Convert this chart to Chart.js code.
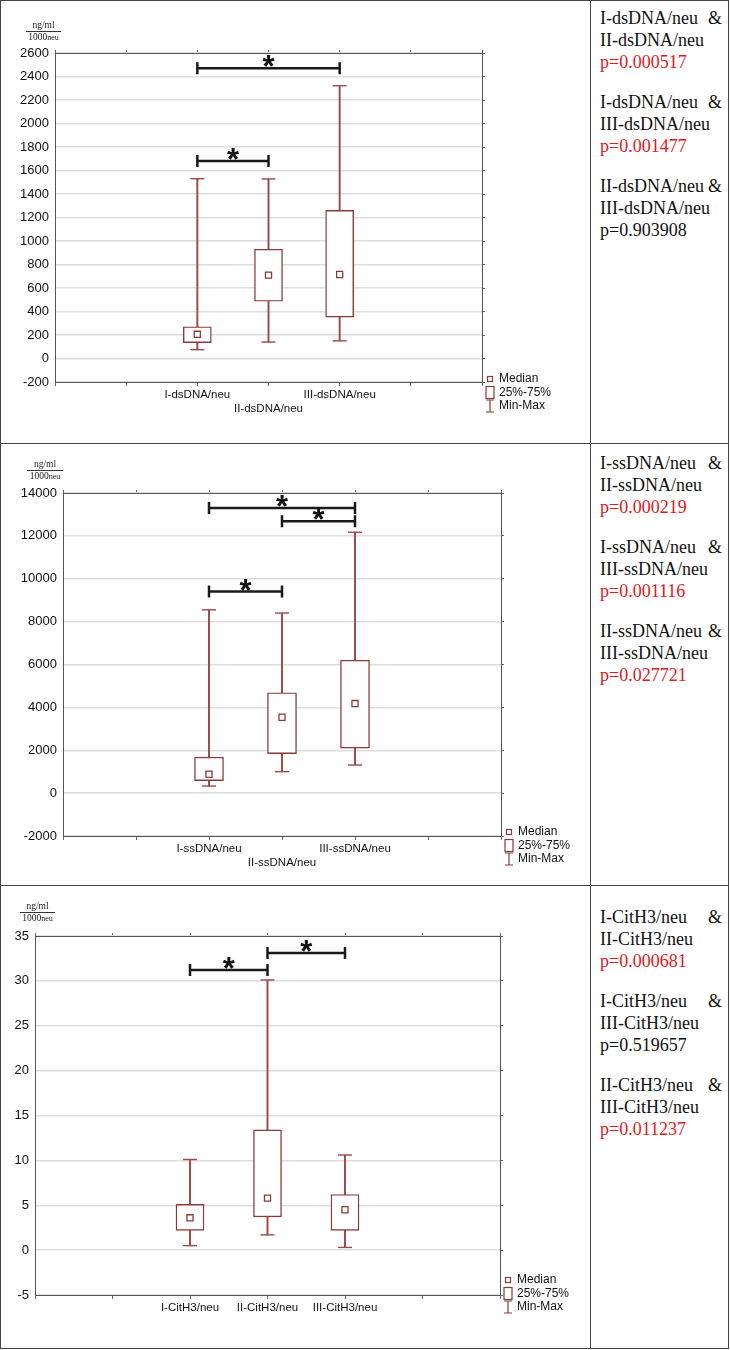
<!DOCTYPE html>
<html>
<head>
<meta charset="utf-8">
<script src="https://cdn.jsdelivr.net/npm/chart.js@4.4.0/dist/chart.umd.min.js"></script>
<style>
  body { margin: 0; background: #fff; }
  #page { position: relative; width: 730px; height: 1350px; overflow: hidden; }
  .frame { position: absolute; left: 0; top: 0; width: 727px; height: 1347px; border: 1px solid #444; }
  .hline { position: absolute; left: 0; width: 729px; height: 0; border-top: 1px solid #444; }
  .vline { position: absolute; left: 590px; top: 0; width: 0; height: 1349px; border-left: 1px solid #444; }
  canvas { position: absolute; left: 0; }
  .unit { position: absolute; font-family: "Liberation Serif", "Times New Roman", serif; font-size: 9.5px; text-align: center; color: #222; white-space: nowrap; }
  .unit span { display: block; line-height: 11px; }
  .unit .arriba { border-bottom: 1px solid #333; }
  .unit small { font-size: 8px; }
  .stats { position: absolute; left: 600px; width: 122px; font-family: "Liberation Serif", "Times New Roman", serif; font-size: 18px; line-height: 22px; color: #111; }
  .stats .fila { display: flex; justify-content: space-between; white-space: nowrap; }
  .stats .rojo { color: #e3171d; }
  .stats .grupo { margin-bottom: 18px; }
</style>
</head>
<body>
<div id="page">
  <div class="frame"></div>
  <div class="vline"></div>
  <div class="hline" style="top:443px"></div>
  <div class="hline" style="top:885px"></div>

  <canvas id="chartDs" width="590" height="443" style="top:0"></canvas>
  <canvas id="chartSs" width="590" height="442" style="top:443px"></canvas>
  <canvas id="chartCit" width="590" height="463" style="top:885px"></canvas>

  <div class="unit" style="left:26px;top:20px;width:35px"><span class="arriba">ng/ml</span><span>1000<small>neu</small></span></div>
  <div class="unit" style="left:27px;top:459px;width:36px"><span class="arriba">ng/ml</span><span>1000<small>neu</small></span></div>
  <div class="unit" style="left:20px;top:901px;width:35px"><span class="arriba">ng/ml</span><span>1000<small>neu</small></span></div>

  <div class="stats" id="statsDs" style="top:7px"></div>
  <div class="stats" id="statsSs" style="top:452px"></div>
  <div class="stats" id="statsCit" style="top:906px"></div>
</div>

<script>
// dsDNA
const dsLabels = ['I-dsDNA/neu', 'II-dsDNA/neu', 'III-dsDNA/neu'];
const dsMin = [75, 140, 150];
const dsQ1 = [135, 487, 352];
const dsMed = [206, 710, 715];
const dsQ3 = [270, 930, 1260];
const dsMax = [1530, 1528, 2322];
const dsTicks = [-200, 2600, 200];
const dsBrackets = [[0, 1, 1680], [0, 2, 2470]];
const dsPairs = [
  ['I-dsDNA/neu', 'II-dsDNA/neu', 'p=0.000517', true],
  ['I-dsDNA/neu', 'III-dsDNA/neu', 'p=0.001477', true],
  ['II-dsDNA/neu', 'III-dsDNA/neu', 'p=0.903908', false]
];

// ssDNA
const ssLabels = ['I-ssDNA/neu', 'II-ssDNA/neu', 'III-ssDNA/neu'];
const ssMin = [330, 1000, 1310];
const ssQ1 = [580, 1840, 2100];
const ssMed = [880, 3540, 4180];
const ssQ3 = [1680, 4680, 6200];
const ssMax = [8550, 8400, 12170];
const ssTicks = [-2000, 14000, 2000];
const ssBrackets = [[0, 1, 9400], [0, 2, 13300], [1, 2, 12680]];
const ssPairs = [
  ['I-ssDNA/neu', 'II-ssDNA/neu', 'p=0.000219', true],
  ['I-ssDNA/neu', 'III-ssDNA/neu', 'p=0.001116', true],
  ['II-ssDNA/neu', 'III-ssDNA/neu', 'p=0.027721', true]
];

// CitH3
const citLabels = ['I-CitH3/neu', 'II-CitH3/neu', 'III-CitH3/neu'];
const citMin = [0.5, 1.7, 0.3];
const citQ1 = [2.2, 3.7, 2.2];
const citMed = [3.6, 5.8, 4.5];
const citQ3 = [5.1, 13.4, 6.2];
const citMax = [10.1, 30.1, 10.6];
const citTicks = [-5, 35, 5];
const citBrackets = [[0, 1, 31.2], [1, 2, 33.1]];
const citPairs = [
  ['I-CitH3/neu', 'II-CitH3/neu', 'p=0.000681', true],
  ['I-CitH3/neu', 'III-CitH3/neu', 'p=0.519657', false],
  ['II-CitH3/neu', 'III-CitH3/neu', 'p=0.011237', true]
];

const COLOR_CAJA = '#8a3a3a';
const COLOR_BIGOTE = '#9c4a4a';
const FUENTE = '"Liberation Sans", Arial, sans-serif';

Chart.defaults.font.family = FUENTE;
Chart.defaults.color = '#111';

// brackets con asterisco
const pluginCorchetes = {
  id: 'corchetes',
  afterDatasetsDraw(chart, args, opts) {
    const ctx = chart.ctx;
    const xs = chart.scales.x, ys = chart.scales.y;
    ctx.save();
    (opts.lista || []).forEach(([a, b, v]) => {
      const x1 = xs.getPixelForValue(a + 2);
      const x2 = xs.getPixelForValue(b + 2);
      const y = ys.getPixelForValue(v);
      ctx.strokeStyle = '#1a1a1a';
      ctx.lineWidth = 2.5;
      ctx.beginPath();
      ctx.moveTo(x1, y); ctx.lineTo(x2, y);
      ctx.moveTo(x1, y - 6); ctx.lineTo(x1, y + 6);
      ctx.moveTo(x2, y - 6); ctx.lineTo(x2, y + 6);
      ctx.stroke();
      ctx.fillStyle = '#111';
      ctx.font = 'bold 31px ' + FUENTE;
      ctx.textAlign = 'center';
      ctx.textBaseline = 'alphabetic';
      ctx.fillText('*', (x1 + x2) / 2, y + 9);
    });
    ctx.restore();
  }
};

// leyenda Median / 25%-75% / Min-Max
const pluginLeyenda = {
  id: 'leyendaCaja',
  afterDraw(chart, args, opts) {
    const ctx = chart.ctx;
    const area = chart.chartArea;
    const x = area.right + 8;
    const y0 = area.bottom + (opts.dy || 0);
    ctx.save();
    ctx.strokeStyle = COLOR_CAJA;
    ctx.lineWidth = 1.2;
    ctx.strokeRect(x - 2.5, y0 - 2.5, 5, 5);
    ctx.strokeRect(x - 4, y0 + 13.5 - 6, 8, 12);
    const y3 = y0 + 27;
    ctx.beginPath();
    ctx.moveTo(x, y3 - 6); ctx.lineTo(x, y3 + 6);
    ctx.moveTo(x - 4, y3 - 6); ctx.lineTo(x + 4, y3 - 6);
    ctx.moveTo(x - 4, y3 + 6); ctx.lineTo(x + 4, y3 + 6);
    ctx.stroke();
    ctx.fillStyle = '#111';
    ctx.font = '12px ' + FUENTE;
    ctx.textAlign = 'left';
    ctx.textBaseline = 'middle';
    ctx.fillText('Median', x + 9, y0);
    ctx.fillText('25%-75%', x + 9, y0 + 13.5);
    ctx.fillText('Min-Max', x + 9, y3);
    ctx.restore();
  }
};

function crearPanel(id, d) {
  const canvas = document.getElementById(id);
  const W = canvas.width, H = canvas.height;
  const pos = d.labels.map((_, i) => i + 2);
  const [yMin, yMax, yStep] = d.ticks;

  return new Chart(canvas, {
    type: 'bar',
    data: {
      datasets: [
        {
          type: 'scatter',
          order: 0,
          data: pos.map((x, i) => ({ x, y: d.med[i] })),
          pointStyle: 'rect',
          pointRadius: 4.3,
          backgroundColor: '#fff',
          borderColor: COLOR_CAJA,
          borderWidth: 1.3
        },
        {
          type: 'bar',
          order: 1,
          grouped: false,
          data: pos.map((x, i) => ({ x, y: [d.q1[i], d.q3[i]] })),
          barThickness: d.caja,
          backgroundColor: '#fff',
          borderColor: COLOR_CAJA,
          borderWidth: 1.4,
          borderSkipped: false
        },
        {
          type: 'scatter',
          order: 2,
          data: pos.flatMap((x, i) => [{ x, y: d.min[i] }, { x, y: d.max[i] }]),
          pointStyle: 'line',
          pointRadius: 7,
          borderColor: COLOR_BIGOTE,
          borderWidth: 1.4
        },
        {
          type: 'bar',
          order: 3,
          grouped: false,
          data: pos.map((x, i) => ({ x, y: [d.min[i], d.max[i]] })),
          barThickness: 1.3,
          backgroundColor: COLOR_BIGOTE,
          borderWidth: 0
        }
      ]
    },
    options: {
      responsive: false,
      animation: false,
      events: [],
      layout: {
        padding: { left: 0, top: d.area.top - 4, right: W - d.area.right - 4, bottom: 0 }
      },
      scales: {
        x: {
          type: 'linear', position: 'bottom', min: 0, max: 6, offset: false,
          afterFit: s => { s.height = H - d.area.bottom; },
          grid: { drawOnChartArea: false, tickLength: 4, color: '#666', offset: false },
          border: { color: '#555', width: 1 },
          ticks: {
            stepSize: 1, autoSkip: false, maxRotation: 0, padding: 2,
            font: { size: 11.5 }, color: '#111',
            callback: v => {
              const i = v - 2;
              if (i < 0 || i >= d.labels.length) return '';
              return (d.escalon && i === 1) ? ['', d.labels[i]] : d.labels[i];
            }
          }
        },
        x2: {
          type: 'linear', position: 'top', min: 0, max: 6, offset: false,
          afterFit: s => { s.height = 4; },
          grid: { drawOnChartArea: false, tickLength: 3, color: '#666', offset: false },
          border: { color: '#555', width: 1 },
          ticks: { display: false, stepSize: 1 }
        },
        y: {
          position: 'left', min: yMin, max: yMax,
          afterFit: s => { s.width = d.area.left; },
          grid: { color: '#dedede', lineWidth: 1.5, drawTicks: false },
          border: { color: '#555', width: 1 },
          ticks: { stepSize: yStep, padding: 6, font: { size: 13 }, color: '#111', callback: v => String(v) }
        },
        y2: {
          position: 'right', min: yMin, max: yMax,
          afterFit: s => { s.width = 4; },
          grid: { drawOnChartArea: false, tickLength: 3, color: '#666' },
          border: { color: '#555', width: 1 },
          ticks: { display: false, stepSize: yStep }
        }
      },
      plugins: {
        legend: { display: false },
        tooltip: { enabled: false },
        corchetes: { lista: d.brackets },
        leyendaCaja: { dy: d.leyendaDy }
      }
    },
    plugins: [pluginCorchetes, pluginLeyenda]
  });
}

function llenarStats(id, pares) {
  const el = document.getElementById(id);
  el.innerHTML = pares.map(([a, b, p, sig]) => `
    <div class="grupo">
      <div class="fila"><span>${a}</span><span>&amp;</span></div>
      <div>${b}</div>
      <div class="${sig ? 'rojo' : ''}">${p}</div>
    </div>`).join('');
}

window.onload = () => {
  crearPanel('chartDs', {
    labels: dsLabels, min: dsMin, q1: dsQ1, med: dsMed, q3: dsQ3, max: dsMax,
    ticks: dsTicks, brackets: dsBrackets, caja: 28, escalon: true, leyendaDy: -3,
    area: { left: 55, right: 482, top: 53, bottom: 382 }
  });
  crearPanel('chartSs', {
    labels: ssLabels, min: ssMin, q1: ssQ1, med: ssMed, q3: ssQ3, max: ssMax,
    ticks: ssTicks, brackets: ssBrackets, caja: 29, escalon: true, leyendaDy: -4,
    area: { left: 63, right: 501, top: 50, bottom: 393 }
  });
  crearPanel('chartCit', {
    labels: citLabels, min: citMin, q1: citQ1, med: citMed, q3: citQ3, max: citMax,
    ticks: citTicks, brackets: citBrackets, caja: 28, escalon: false, leyendaDy: -15,
    area: { left: 35, right: 500, top: 51, bottom: 410 }
  });

  llenarStats('statsDs', dsPairs);
  llenarStats('statsSs', ssPairs);
  llenarStats('statsCit', citPairs);
};
</script>
</body>
</html>
